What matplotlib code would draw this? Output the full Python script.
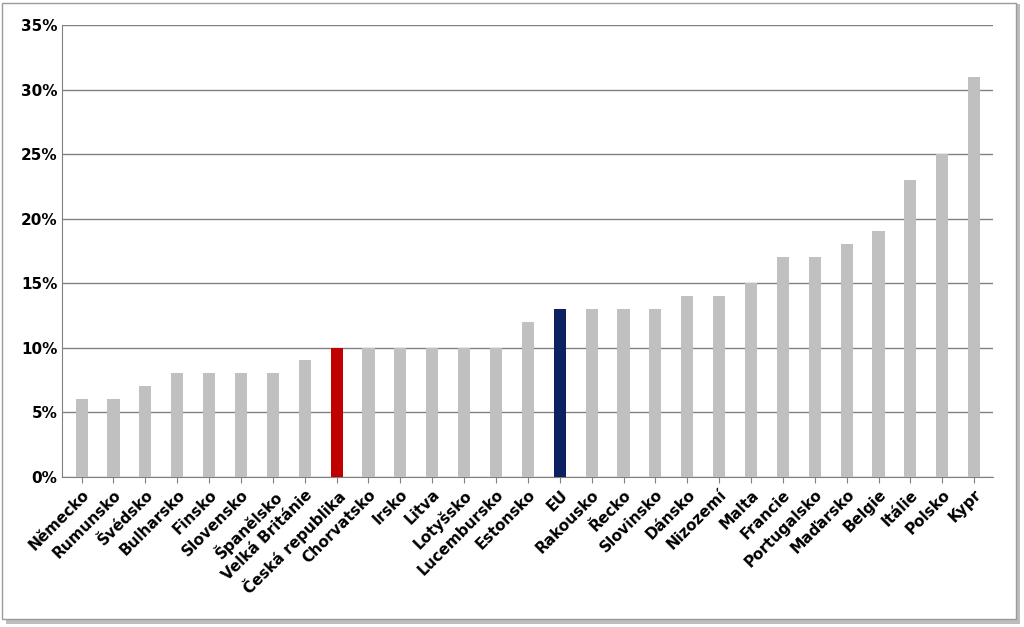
import matplotlib.pyplot as plt
import matplotlib.patches as patches
from matplotlib.ticker import PercentFormatter

zeme = ["Německo", "Rumunsko", "Švédsko", "Bulharsko", "Finsko", "Slovensko",
        "Španělsko", "Velká Británie", "Česká republika", "Chorvatsko", "Irsko",
        "Litva", "Lotyšsko", "Lucembursko", "Estonsko", "EU", "Rakousko", "Řecko",
        "Slovinsko", "Dánsko", "Nizozemí", "Malta", "Francie", "Portugalsko",
        "Maďarsko", "Belgie", "Itálie", "Polsko", "Kypr"]
hodnoty = [6, 6, 7, 8, 8, 8, 8, 9, 10, 10, 10, 10, 10, 10, 12, 13, 13, 13,
           13, 14, 14, 15, 17, 17, 18, 19, 23, 25, 31]

barvy = []
for z in zeme:
    if z == "Česká republika":
        barvy.append("#c00000")
    elif z == "EU":
        barvy.append("#0d2060")
    else:
        barvy.append("#c0c0c0")

fig = plt.figure(figsize=(10.24, 6.27), dpi=100)
# ramecek se stinem
fig.patches.append(patches.Rectangle((0.006, 0.004), 0.99, 0.99, transform=fig.transFigure,
                                     facecolor="#bdbdbd", edgecolor="none", zorder=-2))
fig.patches.append(patches.Rectangle((0.002, 0.012), 0.99, 0.984, transform=fig.transFigure,
                                     facecolor="white", edgecolor="#9a9a9a", lw=1, zorder=-1))

ax = fig.add_axes([0.061, 0.24, 0.909, 0.72])
ax.set_zorder(1)
ax.patch.set_alpha(0)
x = range(len(zeme))
ax.bar(x, hodnoty, width=0.38, color=barvy, zorder=3)
ax.set_ylim(0, 35)
ax.set_xlim(-0.6, len(zeme) - 0.4)
ax.set_yticks(range(0, 36, 5))
ax.yaxis.set_major_formatter(PercentFormatter(decimals=0))
ax.grid(axis="y", color="#808080", lw=1, zorder=0)
for s in ["top", "right"]:
    ax.spines[s].set_visible(False)
ax.spines["left"].set_color("#808080")
ax.spines["bottom"].set_color("#808080")
ax.tick_params(axis="y", length=0, labelsize=11)
ax.tick_params(axis="x", length=4, color="#808080")
ax.set_xticks(list(x))
ax.set_xticklabels(zeme, rotation=45, ha="right", rotation_mode="anchor",
                   fontsize=11, fontweight="bold")
for t in ax.get_yticklabels():
    t.set_fontweight("bold")

plt.savefig("out.png", dpi=100)
